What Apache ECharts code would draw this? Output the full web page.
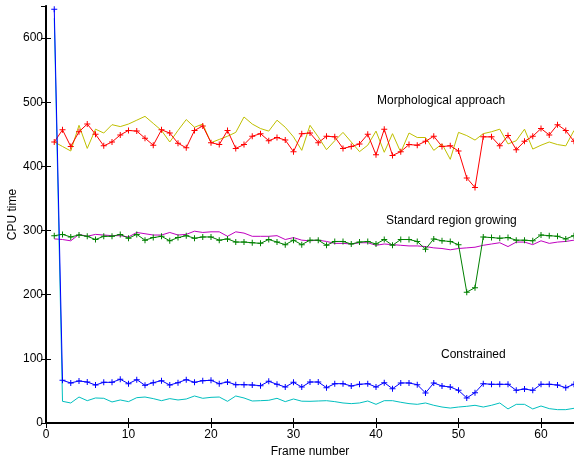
<!DOCTYPE html>
<html><head><meta charset="utf-8">
<script src="https://cdn.jsdelivr.net/npm/echarts@6/dist/echarts.min.js"></script>
<style>html,body{margin:0;padding:0;background:#fff}#c{width:574px;height:456px}</style>
</head><body><div id="c"></div>
<script>
const frames = Array.from({length:64},(_,i)=>i+1);
const morphMarked = [438,457,431,454,466,450,432,438,449,456,455,444,433,457,452,436,429,456,463,437,434,456,428,434,447,451,440,445,441,423,451,452,
  437,447,446,428,431,435,450,418,458,417,423,434,433,439,447,431,432,424,382,367,446,446,432,448,426,439,447,459,449,465,456,439];
const morphPlain = [438,431,424,464,428,458,452,465,462,466,472,478,467,456,438,456,473,461,466,437,442,447,453,477,466,459,455,472,461,446,425,464,
  446,426,440,453,438,423,433,455,422,451,422,452,445,445,425,435,411,453,448,441,451,454,458,435,440,458,427,433,438,434,432,456];
const srgMarked = [292,294,290,293,291,286,291,291,294,288,294,285,289,291,284,289,292,288,290,290,285,287,282,282,281,280,286,282,278,285,278,285,
  285,277,283,283,279,282,283,279,286,277,286,286,283,271,287,284,283,278,204,211,290,289,288,289,285,285,284,293,292,291,287,292];
const srgPlain = [287,286,284,294,291,294,293,292,292,290,297,295,293,293,297,293,294,299,297,298,298,291,298,296,291,291,291,292,286,289,285,284,
  285,283,280,280,279,281,281,277,279,278,277,276,276,275,273,272,270,272,273,274,277,279,281,275,282,282,278,284,280,282,283,285];
const consMarked = [645,66.5,62.4,65.5,63.9,59.2,63.4,63.4,68.1,61.3,67.6,58.7,62.9,66,59.2,62.9,67.6,63.4,66,66.5,61.3,63.9,59.7,59.7,59.2,58.2,65,60.3,56.1,63.4,56,63.9,
  63.9,55.1,61.3,61.3,57.7,60.3,61.3,56.1,62.9,53.5,62.4,62.4,59.7,46.8,62.4,57.7,56.1,50.9,39,47.3,61.3,60.3,60.3,60.3,50.9,53,50.9,60.3,60.3,59.2,55.1,60.3];
const consPlain = [631,33.8,31.2,40.5,34.8,39,38.5,32.8,35.9,33.3,39.5,40.5,38,34.8,38,35.9,37.4,42.1,38.5,40,40.5,33.8,42.1,39,34.3,34.8,35.4,38.5,33.3,37.4,34,33.8,
  34.3,34.8,33.3,31.2,30.2,31.2,34.3,29.1,34.8,34.8,32.3,30.2,29.1,31.2,27.6,24.9,23.3,24.9,26,27.6,24.9,27.6,31.2,21.9,29.1,29.1,21.9,26.5,22.4,20.8,20.8,22.9];
const yTicks = [0,100,200,300,400,500,600];
const xTicks = [0,10,20,30,40,50,60];
const annotations = ['Morphological approach','Standard region growing','Constrained'];

const FONT = '"Liberation Sans", Arial, sans-serif';
const plus = 'path://M2.5,0h1v2.5h2.5v1h-2.5v2.5h-1v-2.5h-2.5v-1h2.5z';
function pairs(arr){ return arr.map((v,i)=>[frames[i], v]); }
function ser(data, color, marked){
  return {type:'line', data:pairs(data), xAxisIndex:0, yAxisIndex:0,
    symbol: marked ? plus : 'none', symbolSize: 6, showSymbol: marked,
    lineStyle:{color, width:1}, itemStyle:{color}, animation:false, z: marked?3:2};
}
const chart = echarts.init(document.getElementById('c'));
const axisBase = {
  axisLine:{lineStyle:{color:'#000', width:2}},
  axisTick:{inside:true, length:5, lineStyle:{color:'#000'}},
  splitLine:{show:false},
  axisLabel:{color:'#000', fontFamily:FONT, fontSize:12, showMaxLabel:false}
};
chart.setOption({
  backgroundColor:'#fff',
  animation:false,
  grid:{left:46, right:0, top:6, bottom:33, containLabel:false, outerBoundsMode:'none'},
  xAxis:[
    Object.assign({}, axisBase, {type:'value', min:0, max:64, interval:10, position:'bottom',
      name:'Frame number', nameLocation:'middle', nameGap:22,
      nameTextStyle:{color:'#000', fontFamily:FONT, fontSize:12},
      axisLabel:{color:'#000', fontFamily:FONT, fontSize:12, margin:6, showMaxLabel:false,
        formatter:v=>xTicks.includes(v)?String(v):''}}),
    Object.assign({}, axisBase, {type:'value', min:0, max:64, interval:10, position:'top',
      axisLine:{lineStyle:{color:'#000', width:1.5}}, axisLabel:{show:false}})
  ],
  yAxis:[
    Object.assign({}, axisBase, {type:'value', min:0, max:650, interval:100, position:'left',
      name:'CPU time', nameLocation:'middle', nameGap:27, nameMoveOverlap:false,
      nameTextStyle:{color:'#000', fontFamily:FONT, fontSize:12},
      axisLabel:{color:'#000', fontFamily:FONT, fontSize:12, margin:3, showMaxLabel:false,
        formatter:v=>yTicks.includes(v)?String(v):''}}),
    Object.assign({}, axisBase, {type:'value', min:0, max:650, interval:100, position:'right',
      axisLine:{lineStyle:{color:'#000', width:1}}, axisLabel:{show:false}})
  ],
  graphic:[
    {type:'text', left:377, top:95, style:{text:annotations[0], fill:'#000', font:'12px '+FONT}},
    {type:'text', left:386, top:215, style:{text:annotations[1], fill:'#000', font:'12px '+FONT}},
    {type:'text', left:441, top:349, style:{text:annotations[2], fill:'#000', font:'12px '+FONT}}
  ],
  series:[
    ser(morphPlain, '#bfbf00', false),
    ser(morphMarked, '#ff0000', true),
    ser(srgPlain, '#bf00bf', false),
    ser(srgMarked, '#008000', true),
    ser(consPlain, '#00bfbf', false),
    ser(consMarked, '#0000ff', true)
  ]
});
</script></body></html>
